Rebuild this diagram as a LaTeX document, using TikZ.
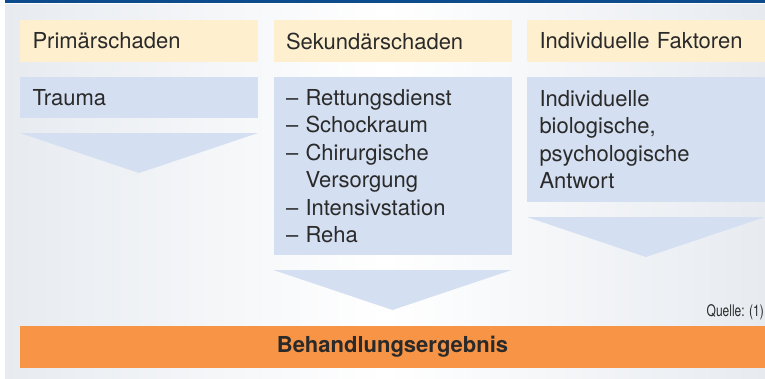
\documentclass[tikz,border=0pt]{standalone}
\usepackage{fontspec}
\setmainfont{TeX Gyre Heros}
\usetikzlibrary{positioning}
\definecolor{topblue}{HTML}{0D4C8C}
\definecolor{headfill}{HTML}{FEF0CF}
\definecolor{boxfill}{HTML}{D4DFF1}
\definecolor{resultfill}{HTML}{F79446}
\definecolor{bgside}{HTML}{E7EBF0}
\definecolor{txt}{HTML}{2A2A2A}
\tikzset{
  colhead/.style={fill=headfill, text=txt, anchor=north west, outer sep=0pt,
    inner xsep=12.5pt, inner ysep=0pt, text width=213pt, align=left,
    minimum height=42pt, font=\fontsize{22}{27.5}\selectfont},
  colbox/.style={colhead, fill=boxfill},
  result/.style={fill=resultfill, text=txt, anchor=north west, outer sep=0pt,
    minimum width=745pt, minimum height=42pt, font=\fontsize{22}{27.5}\selectfont\bfseries},
  source/.style={text=txt, anchor=base east, inner sep=0pt,
    font=\fontsize{16}{18}\selectfont\addfontfeatures{FakeStretch=0.75}}
}
\begin{document}
\begin{tikzpicture}[x=1pt,y=-1pt]
\useasboundingbox (0,0) rectangle (765,378);
% background
\shade[left color=bgside, right color=bgside, middle color=white] (5,4) rectangle (765,378);
\fill[topblue] (5,0) rectangle (765,2.5);
% headers
\node[colhead] (primhead) at (20,20) {Primärschaden};
\node[colhead] (sekhead) at (273.5,20) {Sekundärschaden};
\node[colhead] (indhead) at (527,20) {Individuelle Faktoren};
% boxes
\node[colbox, minimum height=41pt] (primbox) at (20,77) {Trauma};
\node[colbox, minimum height=178pt] (sekbox) at (273.5,77) {– Rettungsdienst\\– Schockraum\\– Chirurgische\\\hphantom{– }Versorgung\\– Intensivstation\\– Reha};
\node[colbox, minimum height=125pt] (indbox) at (527,77) {Individuelle\\biologische,\\psychologische\\Antwort};
% arrows
\fill[boxfill] ([yshift=-15pt]primbox.south west) -- ([yshift=-15pt]primbox.south east) -- ([yshift=-55pt]primbox.south) -- cycle;
\fill[boxfill] ([yshift=-15pt]sekbox.south west) -- ([yshift=-15pt]sekbox.south east) -- ([yshift=-55pt]sekbox.south) -- cycle;
\fill[boxfill] ([yshift=-15pt]indbox.south west) -- ([yshift=-15pt]indbox.south east) -- ([yshift=-55pt]indbox.south) -- cycle;
% result
\node[source] (quelle) at (764,316) {Quelle: (1)};
\node[result] (ergebnis) at (20,326) {Behandlungsergebnis};
\end{tikzpicture}
\end{document}
